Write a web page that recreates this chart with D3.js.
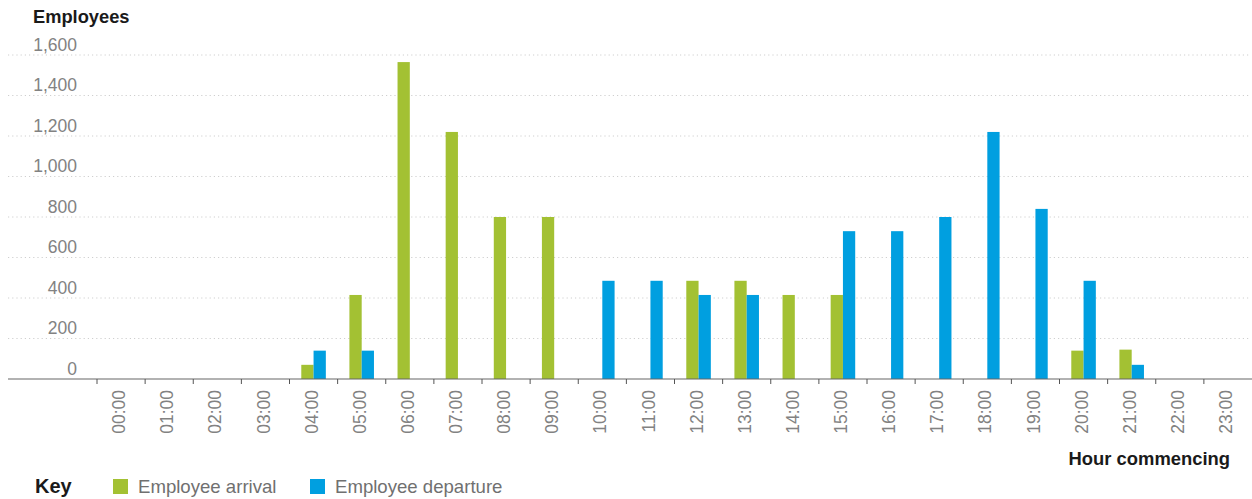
<!DOCTYPE html>
<html>
<head>
<meta charset="utf-8">
<script src="https://cdn.jsdelivr.net/npm/d3@7"></script>
<style>
  html, body { margin: 0; padding: 0; background: #fff; }
  svg { display: block; font-family: "Liberation Sans", Arial, Helvetica, sans-serif; }
</style>
</head>
<body>
<svg id="chart" width="1252" height="499"></svg>
<script>
// Hours of the day (hour commencing)
const hours = ["00:00","01:00","02:00","03:00","04:00","05:00","06:00","07:00","08:00","09:00","10:00","11:00",
               "12:00","13:00","14:00","15:00","16:00","17:00","18:00","19:00","20:00","21:00","22:00","23:00"];
// Employees arriving in each hour
const arrivals = [0,0,0,0,70,415,1565,1220,800,800,0,0,485,485,415,415,0,0,0,0,140,145,0,0];
// Employees departing in each hour
const departures = [0,0,0,0,140,140,0,0,0,0,485,485,415,415,0,730,730,800,1220,840,485,70,0,0];
const seriesNames = ["Employee arrival", "Employee departure"];
const yTicks = [0,200,400,600,800,1000,1200,1400,1600];

const colors = ["#a3c133", "#009fe0"];

const svg = d3.select("#chart");

const x = d3.scaleBand()
  .domain(hours)
  .range([97, 1252])
  .paddingInner(0.49)
  .paddingOuter(0.245);

const x1 = d3.scaleBand()
  .domain([0, 1])
  .range([0, x.bandwidth()]);

const y = d3.scaleLinear()
  .domain([0, 1600])
  .range([379, 55]);

// dotted horizontal gridlines
svg.append("g")
  .selectAll("line")
  .data(yTicks.filter(d => d > 0))
  .join("line")
  .attr("x1", 8).attr("x2", 1250)
  .attr("y1", d => y(d)).attr("y2", d => y(d))
  .attr("stroke", "#cfcfcf")
  .attr("stroke-width", 1)
  .attr("stroke-dasharray", "1.2,3");

// y tick labels sit just above their gridline
const yAxis = svg.append("g")
  .attr("transform", "translate(80,0)")
  .call(d3.axisLeft(y).tickValues(yTicks).tickSize(0).tickPadding(3).tickFormat(d3.format(",")));
yAxis.select(".domain").remove();
yAxis.selectAll("text")
  .attr("dy", "-5px")
  .attr("font-size", "17.5px")
  .attr("font-family", "\"Liberation Sans\", Arial, sans-serif")
  .attr("fill", "#828282");

// grouped bars
const rows = hours.map((h, i) => ({ hour: h, values: [arrivals[i], departures[i]] }));
svg.append("g")
  .selectAll("g")
  .data(rows)
  .join("g")
  .attr("transform", d => `translate(${x(d.hour)},0)`)
  .selectAll("rect")
  .data(d => d.values.map((v, k) => ({ k, v })).filter(e => e.v > 0))
  .join("rect")
  .attr("x", e => x1(e.k))
  .attr("width", x1.bandwidth())
  .attr("y", e => y(e.v))
  .attr("height", e => y(0) - y(e.v))
  .attr("fill", e => colors[e.k]);

// baseline
svg.append("line")
  .attr("x1", 8).attr("x2", 1252)
  .attr("y1", y(0)).attr("y2", y(0))
  .attr("stroke", "#666").attr("stroke-width", 1.2);

// tick marks at the start of each hour
const edgeOffset = x.step() * x.paddingOuter();
svg.append("g")
  .selectAll("line")
  .data(hours)
  .join("line")
  .attr("x1", d => x(d) - edgeOffset).attr("x2", d => x(d) - edgeOffset)
  .attr("y1", y(0)).attr("y2", y(0) + 5)
  .attr("stroke", "#555").attr("stroke-width", 1);

// rotated hour labels
const xAxis = svg.append("g")
  .attr("transform", `translate(0,${y(0)})`)
  .call(d3.axisBottom(x).tickSize(0));
xAxis.select(".domain").remove();
xAxis.selectAll("text")
  .attr("font-size", "17.5px")
  .attr("font-family", "\"Liberation Sans\", Arial, sans-serif")
  .attr("fill", "#828282")
  .attr("text-anchor", "end")
  .attr("dy", "0.35em")
  .attr("transform", "translate(-2,11) rotate(-90)")
  .attr("x", 0).attr("y", 0);

// axis titles
svg.append("text")
  .attr("x", 33).attr("y", 23)
  .attr("font-size", "18.3px").attr("font-weight", "bold")
  .attr("fill", "#1a1a1a")
  .text("Employees");

svg.append("text")
  .attr("x", 1230).attr("y", 465)
  .attr("text-anchor", "end")
  .attr("font-size", "18.4px").attr("font-weight", "bold")
  .attr("fill", "#1a1a1a")
  .text("Hour commencing");

// key
svg.append("text")
  .attr("x", 35).attr("y", 493)
  .attr("font-size", "20px").attr("font-weight", "bold")
  .attr("fill", "#1a1a1a")
  .text("Key");

const legendX = [113, 310];
const legend = svg.append("g")
  .selectAll("g")
  .data(seriesNames)
  .join("g")
  .attr("transform", (d, i) => `translate(${legendX[i]},479)`);
legend.append("rect")
  .attr("width", 15).attr("height", 15)
  .attr("fill", (d, i) => colors[i]);
legend.append("text")
  .attr("x", 25).attr("y", 14)
  .attr("font-size", "18.6px")
  .attr("fill", "#707070")
  .text(d => d);
</script>
</body>
</html>
